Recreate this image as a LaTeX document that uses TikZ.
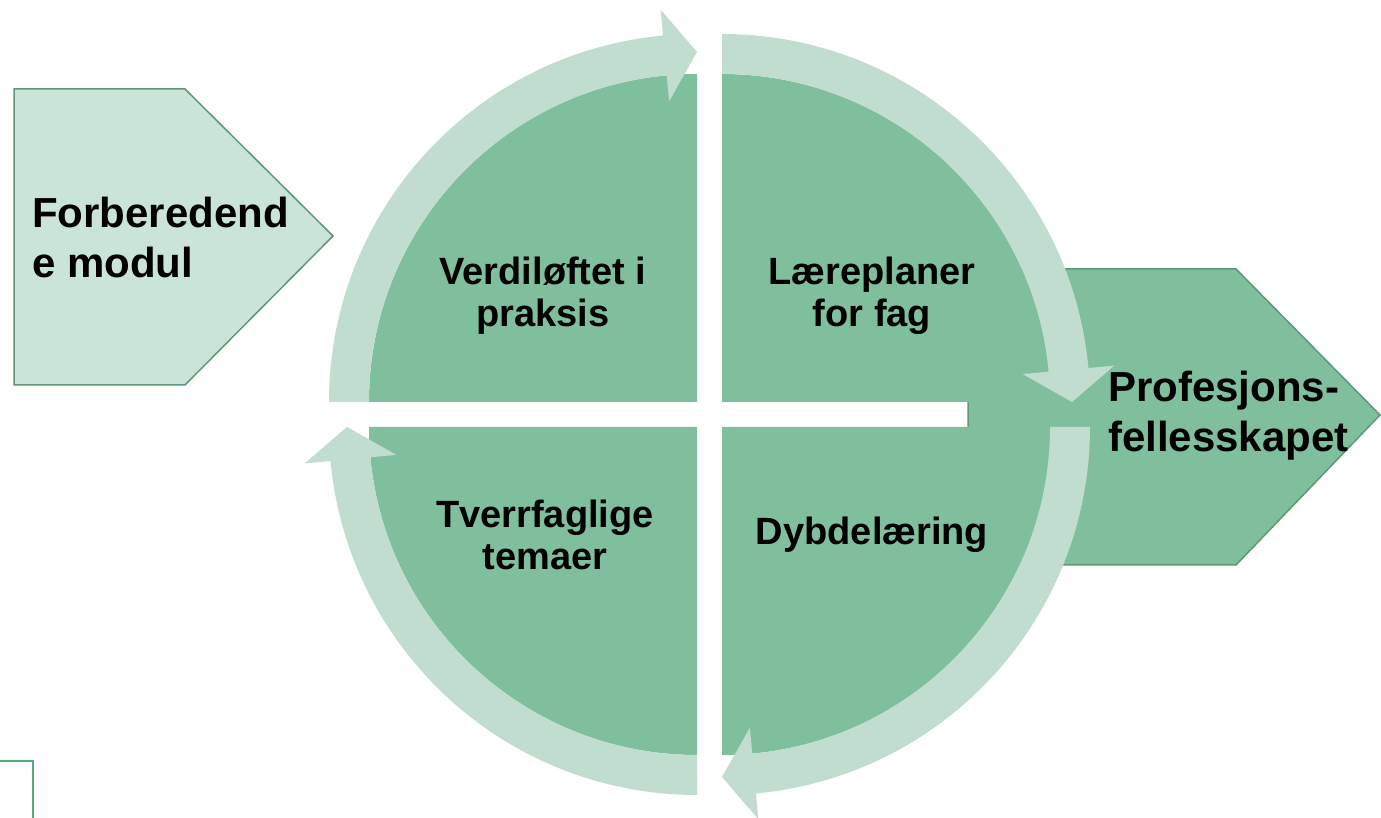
\documentclass[tikz,border=0pt]{standalone}
\usepackage{fontspec}
\setmainfont{Liberation Sans}
\usetikzlibrary{positioning}
\definecolor{darkG}{HTML}{7FBF9D}
\definecolor{lightG}{HTML}{C1DDCF}
\definecolor{paleG}{HTML}{CAE5D7}
\definecolor{edgeG}{HTML}{5E9878}
\definecolor{lineG}{HTML}{5BA77D}
\tikzset{
    chevron/.style={draw=edgeG, line width=1.5pt, line join=miter},
    bigtext/.style={font=\bfseries\fontsize{42}{50}\selectfont, inner sep=0pt, align=left},
    quadtext/.style={font=\bfseries\fontsize{38}{42}\selectfont, inner sep=0pt, align=center}
}

\begin{document}
\begin{tikzpicture}[x=1pt, y=1pt]
    \def \Ro {368pt}
    \def \Ri {328pt}
    \def \Rm {350pt}
    \def \Rh {394pt}
    \def \Rl {302pt}
    \def \head {5.3}
    \useasboundingbox (0,0) rectangle (1381,818);
    \fill[white] (0,0) rectangle (1381,818);
    % side pentagons
    \draw[chevron, fill=paleG] (14,729) -- (185,729) -- (333,582) -- (185,433) -- (14,433) -- cycle;
    \draw[chevron, fill=darkG] (968,549) -- (1236,549) -- (1380,403) -- (1236,253) -- (968,253) -- cycle;
    % quarters with their ring arrows
    \foreach \cx/\cy/\rot in {722/416/0, 697/416/90, 697/391/180, 722/391/270}{
    \begin{scope}[shift={(\cx,\cy)}, rotate=\rot]
    \fill[darkG] (0,0) -- (0:\Ri) arc (0:90:\Ri) -- cycle;
    \fill[lightG] (90:\Ro) arc (90:\head:\Ro) -- (\head:\Rh) -- (0:\Rm) -- (\head:\Rl) -- (\head:\Ri) arc (\head:90:\Ri) -- cycle;
    \end{scope}}
    \draw[lineG, line width=1.5pt] (0,57) -- (33,57) -- (33,0);
    \node[bigtext, anchor=west] (prep) at (32,581) {Forberedend\\e modul};
    \node[bigtext, anchor=west] (prof) at (1108,402) {Profesjons-\\fellesskapet};
    \node[quadtext] (verdi) at (543,522) {Verdiløftet i\\praksis};
    \node[quadtext] (laere) at (872,522) {Læreplaner\\for fag};
    \node[quadtext] (tverr) at (545,283) {Tverrfaglige\\temaer};
    \node[quadtext] (dybde) at (872,283) {Dybdelæring};
\end{tikzpicture}
\end{document}
